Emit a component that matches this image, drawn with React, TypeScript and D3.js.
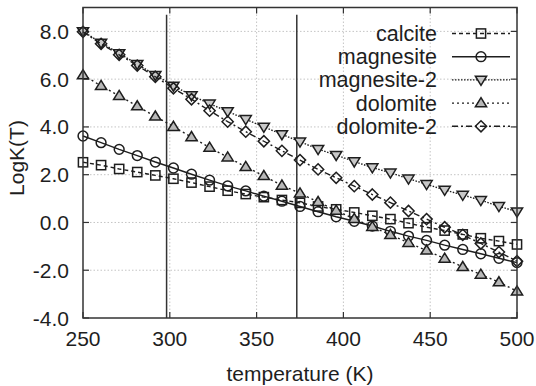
import React from "react";
import * as d3 from "d3";

const temps: number[] = d3.range(25).map((i) => 250 + (i * 250) / 24);

const calcite = [2.52, 2.4, 2.24, 2.11, 1.97, 1.83, 1.67, 1.5, 1.33, 1.19, 1.06, 0.94, 0.82, 0.67, 0.55, 0.42, 0.28, 0.14, -0.03, -0.2, -0.34, -0.5, -0.66, -0.78, -0.92];
const magnesite = [3.62, 3.34, 3.06, 2.8, 2.53, 2.28, 2.02, 1.77, 1.53, 1.32, 1.1, 0.89, 0.67, 0.45, 0.24, 0.05, -0.15, -0.37, -0.57, -0.75, -0.95, -1.13, -1.31, -1.5, -1.68];
const magnesite2 = [8.0, 7.52, 7.08, 6.63, 6.17, 5.72, 5.32, 4.97, 4.65, 4.32, 4.0, 3.69, 3.38, 3.07, 2.82, 2.55, 2.3, 2.08, 1.83, 1.6, 1.36, 1.15, 0.93, 0.68, 0.45];
const dolomite = [6.17, 5.72, 5.3, 4.87, 4.44, 4.01, 3.58, 3.14, 2.73, 2.33, 1.95, 1.55, 1.22, 0.86, 0.5, 0.15, -0.18, -0.52, -0.85, -1.17, -1.51, -1.86, -2.18, -2.5, -2.88];
const dolomite2 = [7.98, 7.48, 7.02, 6.57, 6.1, 5.62, 5.16, 4.68, 4.22, 3.8, 3.4, 3.0, 2.61, 2.22, 1.87, 1.52, 1.17, 0.83, 0.48, 0.14, -0.2, -0.52, -0.88, -1.24, -1.62];

const seriesNames = ["calcite", "magnesite", "magnesite-2", "dolomite", "dolomite-2"];
const xTicks = [250, 300, 350, 400, 450, 500];
const yTicks = [-4, -2, 0, 2, 4, 6, 8];
const refTemps = [298.15, 373.15];

const W = 536;
const H = 386;
const L = 83, R = 517, T = 7.5, B = 318;
const FONT = "'Liberation Sans', Arial, Helvetica, sans-serif";
const INK = "#1e1e1e";

const x = d3.scaleLinear().domain([250, 500]).range([L, R]);
const y = d3.scaleLinear().domain([-4, 9]).range([B, T]);

type Style = { data: number[]; dash: string | undefined; marker: string };
const styles: Style[] = [
  { data: calcite, dash: "4,3", marker: "square" },
  { data: magnesite, dash: undefined, marker: "circle" },
  { data: magnesite2, dash: "1.5,1.5", marker: "tridown" },
  { data: dolomite, dash: "2,3", marker: "triup" },
  { data: dolomite2, dash: "6,3,2,3", marker: "diamond" },
];

function Marker({ kind, cx, cy }: { kind: string; cx: number; cy: number }) {
  const common = { fill: "none", stroke: INK, strokeWidth: 1.5 };
  if (kind === "square") return <rect x={cx - 4.6} y={cy - 4.6} width={9.2} height={9.2} {...common} />;
  if (kind === "circle") return <circle cx={cx} cy={cy} r={4.9} {...common} />;
  if (kind === "tridown")
    return <path d={`M${cx - 5.6},${cy - 3.7}L${cx + 5.6},${cy - 3.7}L${cx},${cy + 5.4}Z`} {...common} fill="#c8c8c8" />;
  if (kind === "triup")
    return <path d={`M${cx - 5.6},${cy + 3.7}L${cx + 5.6},${cy + 3.7}L${cx},${cy - 5.4}Z`} {...common} fill="#b8b8b8" />;
  return <path d={`M${cx},${cy - 5.6}L${cx + 5.6},${cy}L${cx},${cy + 5.6}L${cx - 5.6},${cy}Z`} {...common} />;
}

export default function App() {
  const line = d3
    .line<number>()
    .x((_, i) => x(temps[i]))
    .y((d) => y(d));
  const legendY0 = 33.5;
  const legendDy = 23.2;
  return (
    <svg width={W} height={H} style={{ position: "absolute", left: 0, top: 0, background: "#fff" }} fontFamily={FONT}>
      <rect x={0} y={0} width={W} height={H} fill="#fff" />
      {xTicks.slice(1, -1).map((t) => (
        <line key={"gx" + t} x1={x(t)} x2={x(t)} y1={T} y2={B} stroke="#c4c4c4" strokeWidth={1} strokeDasharray="1.5,2" />
      ))}
      {yTicks.slice(1).map((t) => (
        <line key={"gy" + t} x1={L} x2={R} y1={y(t)} y2={y(t)} stroke="#c4c4c4" strokeWidth={1} strokeDasharray="1.5,2" />
      ))}
      {refTemps.map((t) => (
        <line key={"r" + t} x1={x(t)} x2={x(t)} y1={y(8.7)} y2={B} stroke="#333" strokeWidth={1.5} />
      ))}
      {xTicks.map((t) => (
        <g key={"tx" + t}>
          <line x1={x(t)} x2={x(t)} y1={B} y2={B - 6} stroke="#333" strokeWidth={1.2} />
          <line x1={x(t)} x2={x(t)} y1={T} y2={T + 6} stroke="#333" strokeWidth={1.2} />
          <text x={x(t)} y={346} textAnchor="middle" fontSize={21} fill={INK}>
            {t}
          </text>
        </g>
      ))}
      {yTicks.map((t) => (
        <g key={"ty" + t}>
          <line x1={L} x2={L + 6} y1={y(t)} y2={y(t)} stroke="#333" strokeWidth={1.2} />
          <line x1={R} x2={R - 6} y1={y(t)} y2={y(t)} stroke="#333" strokeWidth={1.2} />
          <text x={69} y={y(t) + 7.5} textAnchor="end" fontSize={21} fill={INK}>
            {t.toFixed(1)}
          </text>
        </g>
      ))}
      {styles.map((s, si) => (
        <g key={"s" + si}>
          <path d={line(s.data) || ""} fill="none" stroke={INK} strokeWidth={1.4} strokeDasharray={s.dash} />
          {s.data.map((v, i) => (
            <Marker key={i} kind={s.marker} cx={x(temps[i])} cy={y(v)} />
          ))}
        </g>
      ))}
      {styles.map((s, si) => {
        const ly = legendY0 + si * legendDy;
        return (
          <g key={"l" + si}>
            <text x={437} y={ly + 7.5} textAnchor="end" fontSize={21.5} fill={INK}>
              {seriesNames[si]}
            </text>
            <line x1={452} x2={510} y1={ly} y2={ly} stroke={INK} strokeWidth={1.4} strokeDasharray={s.dash} />
            <Marker kind={s.marker} cx={481} cy={ly} />
          </g>
        );
      })}
      <rect x={L} y={T} width={R - L} height={B - T} fill="none" stroke="#333" strokeWidth={1.5} />
      <text x={300} y={381} textAnchor="middle" fontSize={21} fill={INK}>
        temperature (K)
      </text>
      <text transform={`translate(24,158) rotate(-90)`} textAnchor="middle" fontSize={21} fill={INK}>
        LogK(T)
      </text>
    </svg>
  );
}
